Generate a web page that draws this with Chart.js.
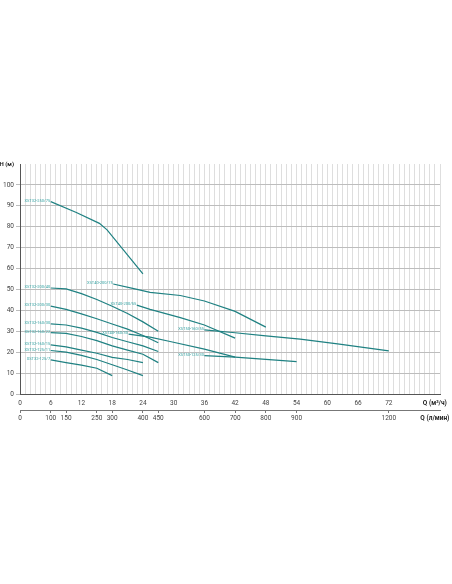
<!DOCTYPE html>
<html>
<head>
<meta charset="utf-8">
<script src="https://cdn.jsdelivr.net/npm/chart.js@4.4.0/dist/chart.umd.min.js"></script>
<style>
  html, body { margin: 0; padding: 0; background: #fff; }
  #wrap { width: 452px; height: 584px; }
</style>
</head>
<body>
<div id="wrap"><canvas id="pumpChart" width="452" height="584"></canvas></div>
<script>
// curve data, Q in m3/h and H in m
const names = [
  "XST32-250/75", "XST32-200/40", "XST32-200/30", "XST32-160/30",
  "XST32-160/22", "XST32-160/15", "XST32-125/11", "XST32-125/7",
  "XST40-200/75", "XST40-200/55", "XST40-160/30", "XST50-160/55", "XST50-125/30"
];
const q32_250_75 = [6, 11, 15.5, 17, 24];
const h32_250_75 = [92, 86.8, 81.6, 78.5, 57.5];
const q32_200_40 = [6, 9, 12, 15, 18, 21, 24, 27];
const h32_200_40 = [50.7, 50.3, 48, 45.2, 42, 38.5, 34.5, 30];
const q32_200_30 = [6, 9, 12, 15, 18, 21, 24, 27];
const h32_200_30 = [42, 40.5, 38.3, 36, 33.5, 31, 28, 24.5];
const q32_160_30 = [6, 9, 12, 15, 18, 21, 24, 27];
const h32_160_30 = [33.5, 33, 31.5, 29.5, 27, 25, 23, 20.3];
const q32_160_22 = [6, 9, 12, 15, 18, 21, 24, 27];
const h32_160_22 = [29.4, 29, 27.5, 25.5, 23, 21, 19, 15];
const q32_160_15 = [6, 9, 12, 15, 18, 21, 24];
const h32_160_15 = [23.5, 22.5, 21, 19.5, 17.5, 16.5, 15];
const q32_125_11 = [6, 9, 12, 15, 18, 21, 24];
const h32_125_11 = [20.8, 20, 18.5, 16.5, 14, 11.5, 8.8];
const q32_125_7 = [6, 9, 12, 15, 18];
const h32_125_7 = [16.3, 15, 13.8, 12.3, 8.8];
const q40_200_75 = [18.2, 22, 25.4, 31.3, 36, 42, 48];
const h40_200_75 = [52.6, 50.5, 48.6, 47.1, 44.5, 39.5, 32];
const q40_200_55 = [22.8, 25.4, 31.3, 36, 42];
const h40_200_55 = [42.5, 40.5, 36.5, 33, 26.7];
const q40_160_30 = [21.2, 25.4, 29.3, 36, 42];
const h40_160_30 = [28.6, 27.2, 25.1, 21.5, 17.6];
const q50_160_55 = [36, 42, 48, 54.7, 62, 72];
const h50_160_55 = [30.7, 29.3, 27.8, 26.2, 24, 20.6];
const q50_125_30 = [36, 42, 48, 54];
const h50_125_30 = [18.4, 17.6, 16.6, 15.5];

const qTicks = [0, 6, 12, 18, 24, 30, 36, 42, 48, 54, 60, 66, 72];
const lpmTicks = [0, 100, 150, 250, 300, 400, 450, 600, 700, 800, 900, 1200];
const hTicks = [0, 10, 20, 30, 40, 50, 60, 70, 80, 90, 100];

const curves = [
  [q32_250_75, h32_250_75], [q32_200_40, h32_200_40], [q32_200_30, h32_200_30],
  [q32_160_30, h32_160_30], [q32_160_22, h32_160_22], [q32_160_15, h32_160_15],
  [q32_125_11, h32_125_11], [q32_125_7, h32_125_7], [q40_200_75, h40_200_75],
  [q40_200_55, h40_200_55], [q40_160_30, h40_160_30], [q50_160_55, h50_160_55],
  [q50_125_30, h50_125_30]
];

const LINE = "#1f8182";
const LABEL = "#35a3a3";
const FONT = "Roboto";

function toPoints(q, h) {
  return q.map((v, i) => ({ x: v, y: h[i] }));
}

const datasets = curves.map((c, i) => ({
  label: names[i],
  data: toPoints(c[0], c[1]),
  borderColor: LINE,
  borderWidth: 1.2,
  pointRadius: 0,
  tension: 0,
  fill: false,
}));

// writes each model name just left of where its curve starts
const curveLabels = {
  id: "curveLabels",
  afterDatasetsDraw(chart) {
    const ctx = chart.ctx;
    const xs = chart.scales.x, ys = chart.scales.y;
    ctx.save();
    ctx.font = "4px " + FONT;
    ctx.fillStyle = LABEL;
    ctx.textAlign = "right";
    ctx.textBaseline = "middle";
    chart.data.datasets.forEach((ds) => {
      const p = ds.data[0];
      ctx.fillText(ds.label, xs.getPixelForValue(p.x) - 0.5, ys.getPixelForValue(p.y) - 1);
    });
    ctx.restore();
  },
};

new Chart(document.getElementById("pumpChart"), {
  type: "line",
  data: { datasets: datasets },
  plugins: [curveLabels],
  options: {
    responsive: false,
    animation: false,
    events: [],
    layout: { padding: { top: 164, left: 0, right: 12, bottom: 160 } },
    plugins: { legend: { display: false }, tooltip: { enabled: false } },
    scales: {
      x: {
        type: "linear",
        position: "bottom",
        weight: 0,
        min: 0,
        max: 82,
        afterBuildTicks: (s) => {
          const t = [];
          for (let v = 0; v <= 82; v++) t.push({ value: v });
          s.ticks = t;
        },
        afterFit: (s) => { s.height = 16; },
        border: { color: "#555", width: 1 },
        grid: { color: "#dedede", lineWidth: 1, tickLength: 0 },
        ticks: {
          autoSkip: false,
          maxRotation: 0,
          padding: 5,
          color: (c) => (c.tick && c.tick.value === 81 ? "#222" : "#444"),
          font: (c) => (c.tick && c.tick.value === 81
            ? { family: FONT, size: 6.5, weight: "bold" }
            : { family: FONT, size: 6.5 }),
          callback: (v) => (v === 81 ? "Q (м³/ч)" : qTicks.includes(v) ? String(v) : ""),
        },
      },
      x2: {
        type: "linear",
        position: "bottom",
        weight: 1,
        min: 0,
        max: 82,
        afterBuildTicks: (s) => {
          s.ticks = lpmTicks.map((l) => ({ value: l * 60 / 1000 })).concat([{ value: 81 }]);
        },
        afterFit: (s) => { s.height = 14; },
        border: { color: "#777", width: 1 },
        grid: {
          drawOnChartArea: false,
          tickLength: 3,
          color: (c) => (c.tick && c.tick.value === 81 ? "rgba(0,0,0,0)" : "#777"),
        },
        ticks: {
          autoSkip: false,
          maxRotation: 0,
          padding: 1,
          color: (c) => (c.tick && c.tick.value === 81 ? "#222" : "#444"),
          font: (c) => (c.tick && c.tick.value === 81
            ? { family: FONT, size: 6.5, weight: "bold" }
            : { family: FONT, size: 6.5 }),
          callback: (v) => (v === 81 ? "Q (л/мин)" : String(Math.round(v * 1000 / 60))),
        },
      },
      y: {
        type: "linear",
        min: 0,
        max: 110,
        afterBuildTicks: (s) => {
          s.ticks = hTicks.map((v) => ({ value: v })).concat([{ value: 110 }]);
        },
        afterFit: (s) => { s.width = 20; },
        border: { color: "#555", width: 1 },
        grid: {
          tickLength: 4,
          color: (c) => (c.tick && c.tick.value === 110 ? "rgba(0,0,0,0)" : "#bdbdbd"),
        },
        ticks: {
          padding: 2,
          color: (c) => (c.tick && c.tick.value === 110 ? "#222" : "#444"),
          font: (c) => (c.tick && c.tick.value === 110
            ? { family: FONT, size: 6, weight: "bold" }
            : { family: FONT, size: 6.5 }),
          callback: (v) => (v === 110 ? "H (м)" : String(v)),
        },
      },
    },
  },
});
</script>
</body>
</html>
